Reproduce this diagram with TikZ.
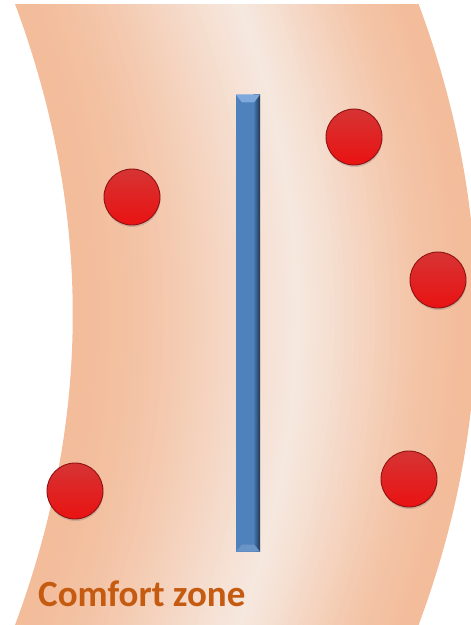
\documentclass[tikz,border=0pt]{standalone}
\usepackage{xcolor}
\usepackage{fontspec}
\usepackage{tikz}
\usetikzlibrary{shadows}
\newfontfamily\zonefont{Carlito}

\definecolor{bandedge}{HTML}{F3BD9C}
\definecolor{bandlight}{HTML}{F6E8DF}
\definecolor{barblue}{HTML}{4F81BD}
\definecolor{bardark}{HTML}{1E3350}
\definecolor{barlight}{HTML}{7FA8DC}
\definecolor{balltop}{HTML}{D63434}
\definecolor{ballbottom}{HTML}{EA1212}
\definecolor{ballrim}{HTML}{8E1212}
\definecolor{zonetext}{HTML}{C55A11}

\begin{document}
\begin{tikzpicture}[x=1pt, y=-1pt,
  ball/.style={circle, minimum size=56pt, inner sep=0pt, draw=ballrim, line width=0.9pt,
    top color=balltop, bottom color=ballbottom,
    drop shadow={shadow xshift=0.5pt, shadow yshift=-2pt, opacity=0.35}},
  barbox/.style={rectangle, minimum width=24pt, minimum height=457pt, inner sep=0pt,
    fill=barblue}]
\useasboundingbox (0,0) rectangle (471,625);

%--- Curved band, light stripe following the curve ---
\foreach \i in {0,...,79}{
  \pgfmathsetmacro{\ta}{5.0375*\i}
  \pgfmathsetmacro{\tb}{5.0375*(\i+1)+0.6}
  \pgfmathsetmacro{\t}{(\i+0.5)/80}
  \pgfmathsetmacro{\u}{\t<0.56 ? \t/0.56 : (1-\t)/0.44}
  \pgfmathtruncatemacro{\w}{100*\u*\u*(2-\u)}
  \fill[bandlight!\w!bandedge]
    (15+\ta,4) .. controls (92+\ta,211) and (92+\ta,418) .. (15+\ta,625)
    -- (15+\tb,625) .. controls (92+\tb,418) and (92+\tb,211) .. (15+\tb,4) -- cycle;
}

%--- Vertical bar ---
\node[barbox] (bar) at (248,323) {};
\shade[left color=barblue, right color=bardark]
  ([xshift=-7pt]bar.north east) rectangle (bar.south east);
% Bevels
\fill[barlight] (bar.north west) -- (bar.north east)
  -- ([shift={(-6,8)}]bar.north east) -- ([shift={(6,8)}]bar.north west) -- cycle;
\fill[barblue!85!white] (bar.south west) -- (bar.south east)
  -- ([shift={(-6,-7)}]bar.south east) -- ([shift={(6,-7)}]bar.south west) -- cycle;

%--- Red balls ---
\node[ball] (b1) at (354,137) {};
\node[ball] (b2) at (132,197) {};
\node[ball] (b3) at (438,280) {};
\node[ball] (b4) at (75,491) {};
\node[ball] (b5) at (409,479) {};

%--- Label ---
\node[anchor=base west, inner sep=0pt, text=zonetext,
  font=\zonefont\bfseries\fontsize{37}{40}\selectfont] (zone) at (38,606) {Comfort zone};
\end{tikzpicture}
\end{document}
